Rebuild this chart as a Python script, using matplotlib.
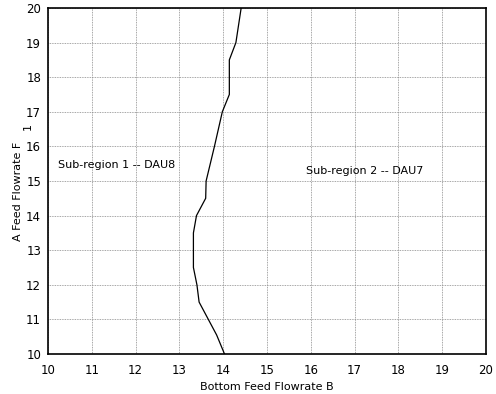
import matplotlib
matplotlib.use('Agg')
import matplotlib.pyplot as plt

# boundary between the two sub-regions
bottom_feed = [14.03, 13.85, 13.45, 13.40, 13.32, 13.32, 13.39, 13.60, 13.61, 13.80, 13.98, 14.14, 14.14, 14.29, 14.41]
a_feed = [10.0, 10.55, 11.5, 12.0, 12.5, 13.5, 14.0, 14.5, 15.0, 16.0, 17.0, 17.5, 18.5, 19.0, 20.0]
labels = ['Sub-region 1 -- DAU8', 'Sub-region 2 -- DAU7']
label_pos = [(10.23, 15.46), (15.89, 15.29)]

fig = plt.figure(figsize=(4.96, 3.94), dpi=100)
ax = fig.add_axes([48/496, 1-354/394, 438/496, 346/394])
ax.plot(bottom_feed, a_feed, color='black', lw=0.9)
for t, (x, y) in zip(labels, label_pos):
    ax.text(x, y, t, fontsize=8, va='center', ha='left')
ax.set_xlim(10, 20)
ax.set_ylim(10, 20)
ax.set_xticks(range(10, 21))
ax.set_yticks(range(10, 21))
ax.tick_params(length=0, labelsize=8.5, pad=5)
ax.tick_params(axis='x', pad=7)
ax.grid(True, color='#888888', linestyle=(0, (1, 1)), lw=0.6)
for s in ax.spines.values():
    s.set_linewidth(1.2)
ax.set_xlabel('Bottom Feed Flowrate B', fontsize=8, labelpad=4)
fig.text(18/496, 1-191/394, 'A Feed Flowrate F', rotation=90, fontsize=8, ha='center', va='center')
fig.text(28/496, 1-126/394, '1', rotation=90, fontsize=8, ha='center', va='center')

fig.savefig('out.png', dpi=100)
